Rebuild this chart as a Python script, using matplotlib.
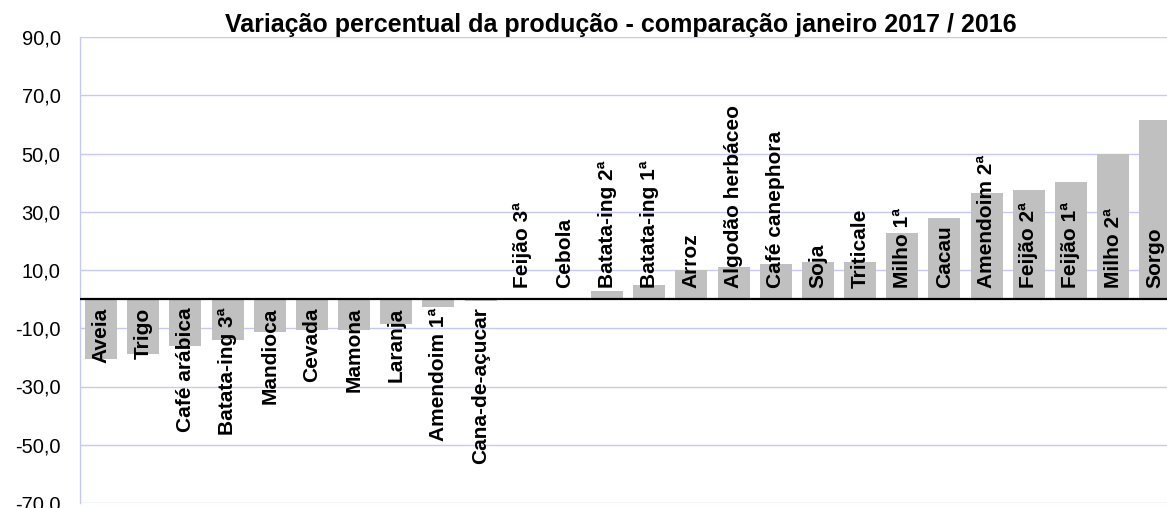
import matplotlib
matplotlib.use("Agg")
import matplotlib.pyplot as plt
import numpy as np

categories = ["Aveia", "Trigo", "Café arábica", "Batata-ing 3ª", "Mandioca", "Cevada",
              "Mamona", "Laranja", "Amendoim 1ª", "Cana-de-açucar", "Feijão 3ª", "Cebola",
              "Batata-ing 2ª", "Batata-ing 1ª", "Arroz", "Algodão herbáceo", "Café canephora",
              "Soja", "Triticale", "Milho 1ª", "Cacau", "Amendoim 2ª", "Feijão 2ª",
              "Feijão 1ª", "Milho 2ª", "Sorgo"]
values = [-20.5, -18.8, -16.2, -14.1, -11.3, -10.6, -10.6, -8.4, -2.8, -0.8, 0.0, 0.0,
          2.7, 4.8, 10.1, 10.9, 11.9, 12.7, 12.7, 22.6, 28.0, 36.3, 37.4, 40.1, 50.0, 61.6]
yticks = [-70, -50, -30, -10, 10, 30, 50, 70, 90]
title = "Variação percentual da produção - comparação janeiro 2017 / 2016"

plt.rcParams['font.family'] = ['Liberation Sans', 'DejaVu Sans']

W, H = 1167, 508
fig = plt.figure(figsize=(W / 100, H / 100), dpi=100)
left, right = 80 / W, 1176.3 / W
top, bottom = (H - 37) / H, (H - 503) / H
ax = fig.add_axes([left, bottom, right - left, top - bottom])

x = np.arange(len(categories))
ax.bar(x, values, width=0.76, color='#c0c0c0', zorder=2)
ax.set_xlim(-0.5, len(categories) - 0.5)
ax.set_ylim(-70, 90)
ax.set_yticks(yticks)
ax.set_yticklabels([f"{v:.1f}".replace('.', ',') for v in yticks], fontsize=14.5)
ax.set_xticks([])
ax.tick_params(axis='y', length=0, pad=14)
ax.grid(axis='y', color='#c8c8f5', lw=1.0, zorder=0)
for s in ['top', 'right', 'bottom']:
    ax.spines[s].set_visible(False)
ax.spines['left'].set_color('#c8c8f5')
ax.spines['left'].set_linewidth(1.0)
ax.axhline(0, color='black', lw=1.6, zorder=3)

for xi, v, c in zip(x, values, categories):
    if v < 0:
        ax.annotate(c, (xi, 0), xytext=(0, -6), textcoords='offset points',
                    rotation=90, ha='center', va='top', fontsize=15,
                    fontweight='bold', zorder=4)
    else:
        ax.annotate(c, (xi, 0), xytext=(0, 8), textcoords='offset points',
                    rotation=90, ha='center', va='bottom', fontsize=15,
                    fontweight='bold', zorder=4)

ax.set_title(title, fontsize=18, fontweight='bold', pad=3, x=(621 - 80) / (1176.3 - 80))

fig.savefig("out.png", dpi=100)
